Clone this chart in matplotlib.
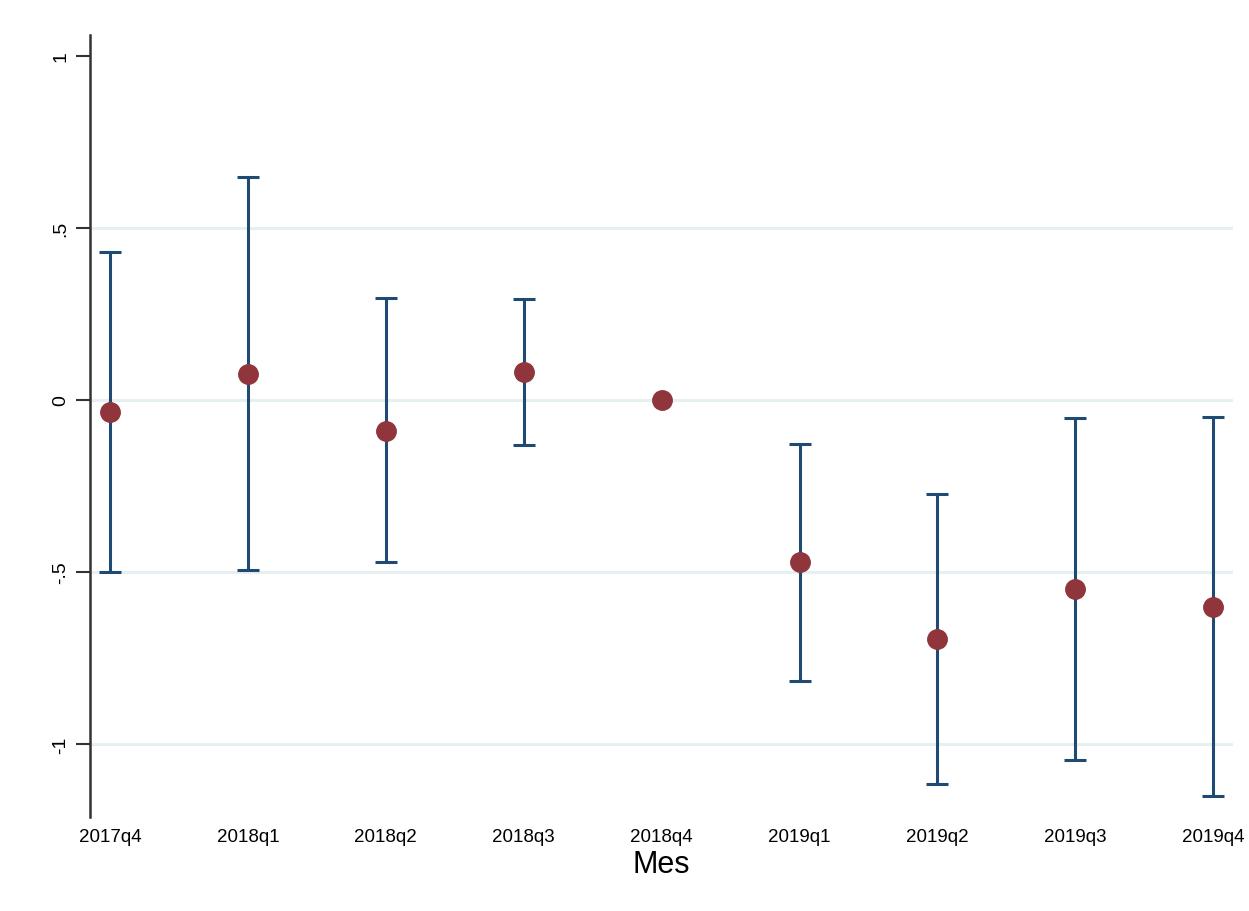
"""Event-study style coefficient plot by quarter with 95% confidence intervals."""

import matplotlib

matplotlib.use("Agg")
import matplotlib.pyplot as plt
import numpy as np

plt.rcParams["font.family"] = ["Liberation Sans", "DejaVu Sans"]

quarters = ["2017q4", "2018q1", "2018q2", "2018q3", "2018q4",
            "2019q1", "2019q2", "2019q3", "2019q4"]
coef = [-0.036, 0.077, -0.090, 0.082, 0.0, -0.472, -0.696, -0.550, -0.601]
ci_low = [-0.499, -0.495, -0.470, -0.131, 0.0, -0.817, -1.116, -1.046, -1.152]
ci_high = [0.430, 0.648, 0.296, 0.295, 0.0, -0.127, -0.272, -0.052, -0.049]

NAVY = "#1f4a72"
CRANBERRY = "#90353b"
GRID = "#e6eff1"

x = np.arange(len(quarters))
coef = np.array(coef)
lo = np.array(ci_low)
hi = np.array(ci_high)

fig = plt.figure(figsize=(12.49, 9.12), dpi=100)
ax = fig.add_axes([0.0721, 0.1031, 0.9151, 0.8574])

for yg in (-1, -0.5, 0, 0.5):
    ax.axhline(yg, color=GRID, lw=2.2, zorder=0)

# reference quarter has no interval, skip its bar
has_ci = hi > lo
ax.errorbar(x[has_ci], coef[has_ci],
            yerr=[coef[has_ci] - lo[has_ci], hi[has_ci] - coef[has_ci]],
            fmt="none", ecolor=NAVY, elinewidth=2.2, capsize=8, capthick=2.2,
            zorder=2)
ax.plot(x, coef, "o", color=CRANBERRY, markersize=14, zorder=3)

ax.set_xlim(-0.145, 8.143)
ax.set_ylim(-1.212, 1.061)

ax.set_yticks([-1, -0.5, 0, 0.5, 1])
ax.set_yticklabels(["-1", "-.5", "0", ".5", "1"], rotation=90, va="center",
                   fontsize=14)
ax.set_xticks(x)
ax.set_xticklabels(quarters, fontsize=13.5)
ax.tick_params(axis="x", length=0, pad=8)
ax.tick_params(axis="y", length=10, width=1.5, color="#333333", pad=5)

for side in ("top", "right", "bottom"):
    ax.spines[side].set_visible(False)
ax.spines["left"].set_color("#333333")
ax.spines["left"].set_linewidth(1.8)

ax.set_xlabel("Mes", fontsize=22, labelpad=3)

fig.savefig("out.png", dpi=100, facecolor="white")
